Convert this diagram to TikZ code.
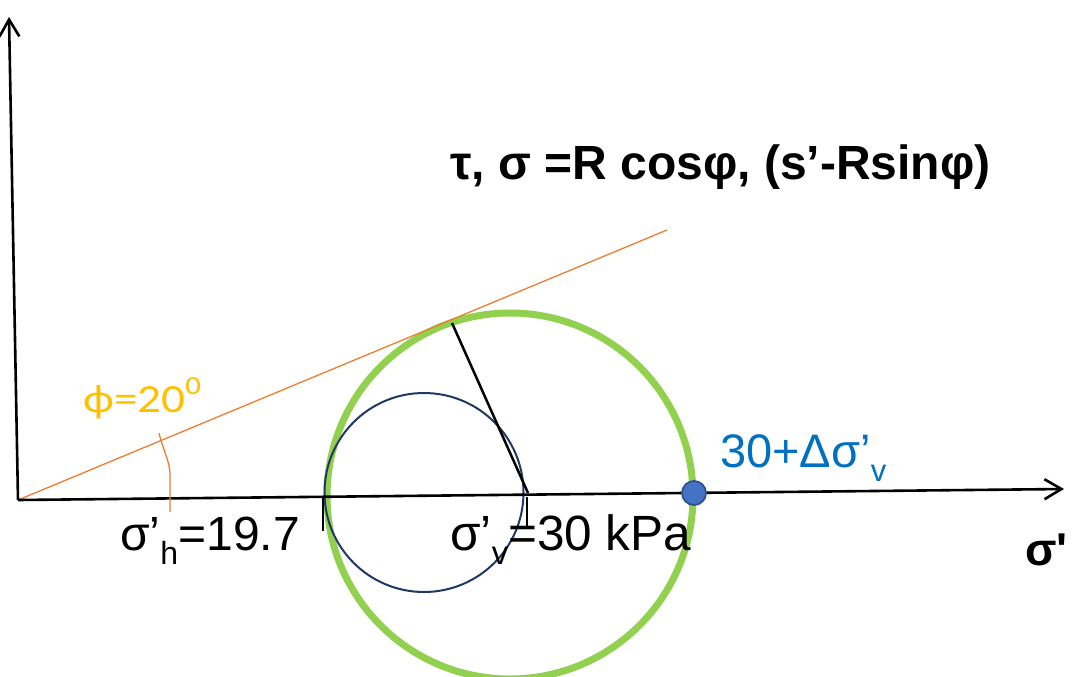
\documentclass[tikz,border=0pt]{standalone}
\usepackage{fontspec}
\setmainfont{Liberation Sans}
\newfontfamily\calib{Carlito}
\usetikzlibrary{arrows.meta}
\definecolor{orline}{HTML}{ED7D31}
\definecolor{ortext}{HTML}{FFC000}
\definecolor{bltext}{HTML}{0070C0}
\definecolor{dotfill}{HTML}{4472C4}
\definecolor{dotdraw}{HTML}{2F528F}
\definecolor{navy}{HTML}{203864}
\definecolor{grn}{HTML}{92D050}
\tikzset{
  axis/.style={line width=2.6pt, -{Straight Barb[length=17pt,width=20pt,line width=2.6pt]}},
  tick/.style={line width=2.8pt},
  lbl/.style={inner sep=0pt, anchor=base west},
}
\begin{document}
\begin{tikzpicture}[x=1pt,y=-1pt]
\useasboundingbox (0,0) rectangle (1076,677);
% coordinates
\coordinate (O) at (18,500);
\coordinate (Ytip) at (9,17);
\coordinate (Xtip) at (1064,489);
\coordinate (Lend) at (667,230);
% green circle
\draw[grn, line width=7pt] (510,496) circle (183);
% navy circle
\draw[navy, line width=2pt] (424,492.5) circle (99.5);
% orange line
\draw[orline, line width=1.3pt] (O) -- (Lend);
% axes
\draw[axis] (O) -- (Ytip);
\draw[axis] (O) -- (Xtip);
% radius line
\coordinate (T) at (452,323);
\coordinate (C) at (528,493);
\draw[line width=2.5pt] (T) -- (C);
% ticks
\coordinate (t1a) at (323,497); \coordinate (t1b) at (323,531);
\coordinate (t2a) at (527,497); \coordinate (t2b) at (527,529);
\draw[tick] (t1a) -- (t1b);
\draw[tick] (t2a) -- (t2b);
% angle mark
\coordinate (s0) at (159,433);
\coordinate (s1) at (170,474);
\coordinate (s2) at (170,512);
\draw[orline, line width=1.3pt] (s0) .. controls (163,450) and (170,462) .. (s1) -- (s2);
% dot
\node[circle, fill=dotfill, draw=dotdraw, line width=1.8pt, minimum size=24pt, inner sep=0pt] (dot) at (694,493) {};
% labels
\node[lbl] (title) at (450,179) {\fontsize{48}{52}\selectfont\bfseries τ, σ =R cosφ, (s’-Rsinφ)};
\node[lbl, text=ortext] (phi) at (83,412) {\scalebox{1.18}[1]{\calib\fontsize{40}{44}\selectfont ϕ=20\raisebox{0.45em}{\fontsize{26}{28}\selectfont 0}}};
\node[lbl] (sh) at (120,550) {\fontsize{48}{52}\selectfont σ’\raisebox{-0.3em}{\fontsize{32}{34}\selectfont h}=19.7};
\node[lbl] (sv) at (450,550) {\fontsize{49.5}{52}\selectfont σ’\raisebox{-0.3em}{\fontsize{33}{34}\selectfont v}=30 kPa};
\node[lbl, text=bltext] (dv) at (720,467) {\fontsize{47}{50}\selectfont 30+Δσ’\raisebox{-0.3em}{\fontsize{31}{32}\selectfont v}};
\node[lbl] (sig) at (1025,565) {\fontsize{46}{50}\selectfont\bfseries σ\textquotesingle};
\end{tikzpicture}
\end{document}
